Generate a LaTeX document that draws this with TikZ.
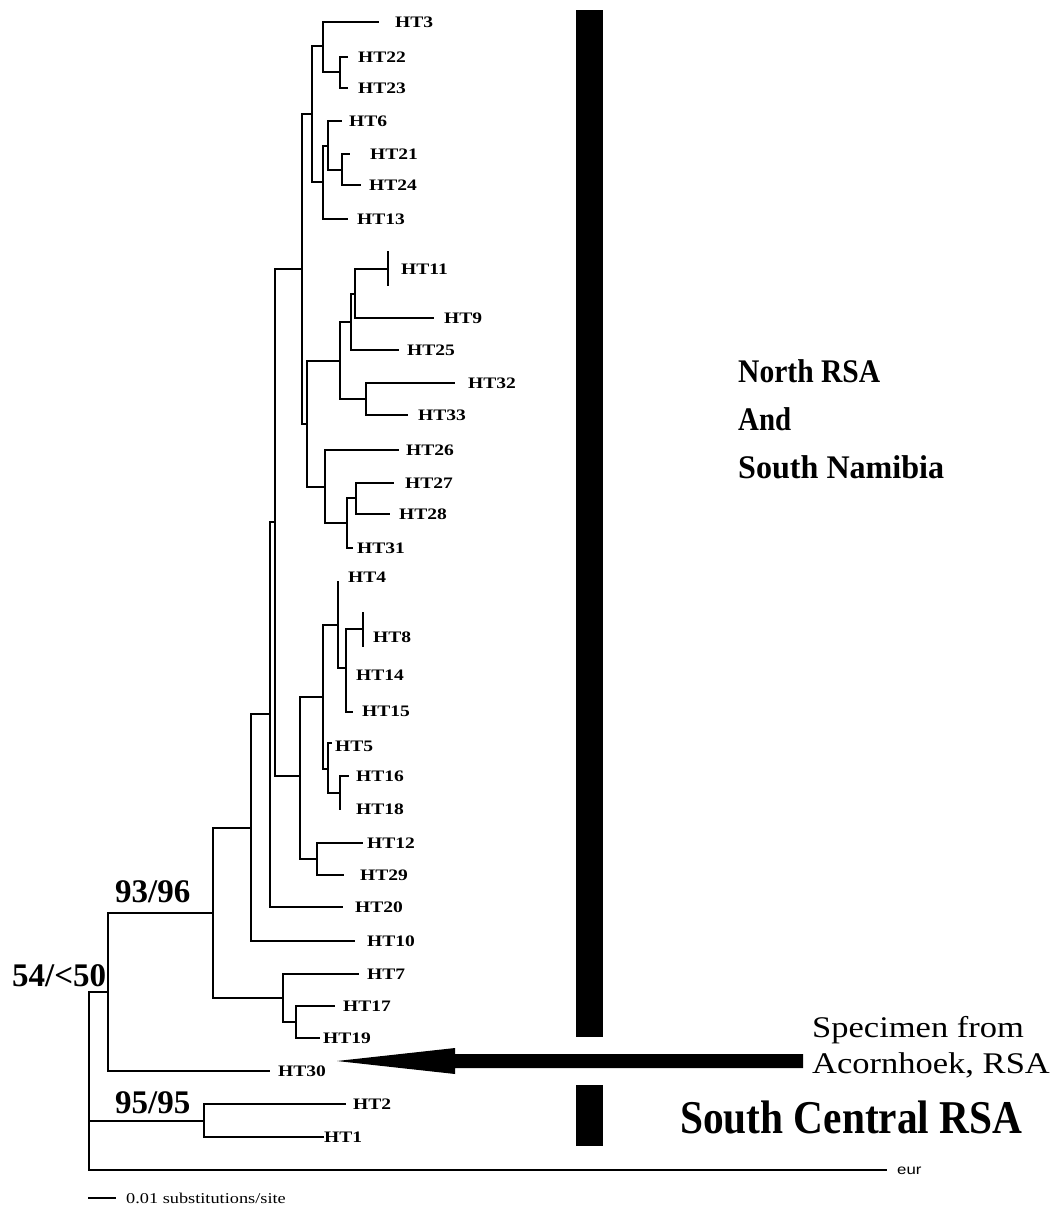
\documentclass[tikz,border=0pt]{standalone}
\usepackage{fontspec}
\usepackage{graphicx}
\setmainfont{Liberation Serif}
\newfontfamily\htf[FakeStretch=1.22]{Liberation Serif}
\newfontfamily\bigf[FakeStretch=0.88]{Liberation Serif}
\newfontfamily\specf[FakeStretch=1.15]{Liberation Serif}
\newfontfamily\eurf[FakeStretch=1.2]{Liberation Sans}
\tikzset{
  br/.style={line width=1.4pt, line join=miter, line cap=rect},
  ht/.style={anchor=west, inner sep=0pt, font={\htf\bfseries\fontsize{16}{16}\selectfont}},
  boot/.style={anchor=base west, inner sep=0pt, font={\bfseries\fontsize{33}{33}\selectfont}},
  region/.style={anchor=base west, inner sep=0pt, font={\bfseries\fontsize{33}{33}\selectfont}},
  regionbig/.style={anchor=base west, inner sep=0pt, font={\bigf\bfseries\fontsize{47}{47}\selectfont}},
  spec/.style={anchor=base west, inner sep=0pt, font={\specf\fontsize{30}{30}\selectfont}},
  small/.style={anchor=west, inner sep=0pt, font={\htf\fontsize{15}{15}\selectfont}},
  eurlab/.style={anchor=west, inner sep=0pt, font={\eurf\fontsize{14}{14}\selectfont}},
}
\begin{document}
\begin{tikzpicture}[x=1pt,y=-1pt]
\useasboundingbox (0,0) rectangle (1059,1207);
% internal nodes
\foreach \n/\x/\y in {root/89/992, nE/108/992, nD/213/913, nC/251/828, nB/270/714,
  nA/275/522, nTop/302/269, n1/312/114, n2/323/46, n3/340/72, n4/323/182, n5/328/146,
  n6/342/170, n7/307/424, n8/340/361, n9/351/322, n11/355/294, n10/366/399, n12/325/487,
  n13/347/523, n14/356/498, nBot/300/776, n15/323/697, n16/338/625, n17/346/668,
  n18/363/629, n19/328/769, n20/340/793, n21/317/859, n22/283/998, n23/296/1022, nF/204/1121}
  \coordinate (\n) at (\x,\y);
% leaves: name / tip x / tip y / label x / label y
\foreach \n/\x/\y/\lx/\ly in {3/378/22/395/22, 22/347/57/358/57, 23/347/88/358/88,
  6/341/121/349/121, 21/349/154/370/154, 24/360/185/369/185, 13/347/219/357/219,
  11/388/269/401/269, 9/433/318/444/318, 25/398/350/407/350, 32/454/383/468/383,
  33/407/415/418/415, 26/398/450/406/450, 27/393/483/405/483, 28/389/514/399/514,
  31/352/548/357/548, 4/338/582/348/577, 14/346/675/356/675, 15/352/712/362/711,
  5/331/743/335/746, 16/348/776/356/776, 18/340/809/356/809, 12/362/843/367/843,
  29/343/875/360/875, 20/342/907/355/907, 10/354/941/367/941, 7/358/974/367/974,
  17/334/1006/343/1006, 19/319/1038/323/1038, 30/269/1071/278/1071,
  2/345/1104/353/1104, 1/323/1137/324/1137}
{
  \coordinate (t\n) at (\x,\y);
  \node[ht] (L\n) at (\lx,\ly) {HT\n};
}
\node[ht] (L8) at (373,637) {HT8};
\coordinate (teur) at (886,1170);
\node[eurlab] (Leur) at (897,1171) {eur};
% branches
\foreach \p/\c in {root/nE, root/nF, root/teur, nE/nD, nE/t30, nD/nC, nD/n22,
  nC/nB, nC/t10, nB/nA, nB/t20, nA/nTop, nA/nBot, nTop/n1, nTop/n7,
  n1/n2, n1/n4, n2/t3, n2/n3, n3/t22, n3/t23, n4/n5, n4/t13, n5/t6, n5/n6,
  n6/t21, n6/t24, n7/n8, n7/n12, n8/n9, n8/n10, n9/n11, n9/t25, n11/t11, n11/t9,
  n10/t32, n10/t33, n12/t26, n12/n13, n13/n14, n13/t31, n14/t27, n14/t28,
  nBot/n15, nBot/n21, n15/n16, n15/n19, n16/t4, n16/n17, n17/n18, n17/t14, n17/t15,
  n19/t5, n19/n20, n20/t16, n20/t18, n21/t12, n21/t29, n22/t7, n22/n23,
  n23/t17, n23/t19, nF/t2, nF/t1}
  \draw[br] (\p) |- (\c);
% zero-length ticks
\coordinate (k11a) at (388,252); \coordinate (k11b) at (388,285);
\draw[br] (k11a) -- (k11b);
\coordinate (k8a) at (363,613); \coordinate (k8b) at (363,646);
\draw[br] (k8a) -- (k8b);
% bootstrap values
\node[boot] (b1) at (115,902) {93/96};
\node[boot] (b2) at (12,986) {54/<50};
\node[boot] (b3) at (115,1113) {95/95};
% bars
\fill (576,10) rectangle (603,1037);
\fill (576,1085) rectangle (603,1146);
% region labels
\node[region] (r1) at (738,382) {\resizebox{142pt}{\height}{North RSA}};
\node[region] (r2) at (738,430) {\resizebox{53pt}{\height}{And}};
\node[region] (r3) at (738,478) {\resizebox{206pt}{\height}{South Namibia}};
\node[regionbig] (r4) at (680,1133) {South Central RSA};
\node[spec] (s1) at (812,1037) {Specimen from};
\node[spec] (s2) at (812,1073) {Acornhoek, RSA};
% arrow (from the specimen note to HT30)
\coordinate (arrS) at (803,1061);
\coordinate (arrT) at (337,1061);
\fill (arrT) -- ++(118,-13) -- ++(0,6) -- ([yshift=7pt]arrS) -- ([yshift=-7pt]arrS)
  -- ++(-348,0) -- ++(0,6) -- cycle;
% scale bar
\coordinate (sbA) at (88,1198); \coordinate (sbB) at (116,1198);
\draw[line width=1.2pt] (sbA) -- (sbB);
\node[small] (sbt) at (126,1198) {0.01 substitutions/site};
\end{tikzpicture}
\end{document}
